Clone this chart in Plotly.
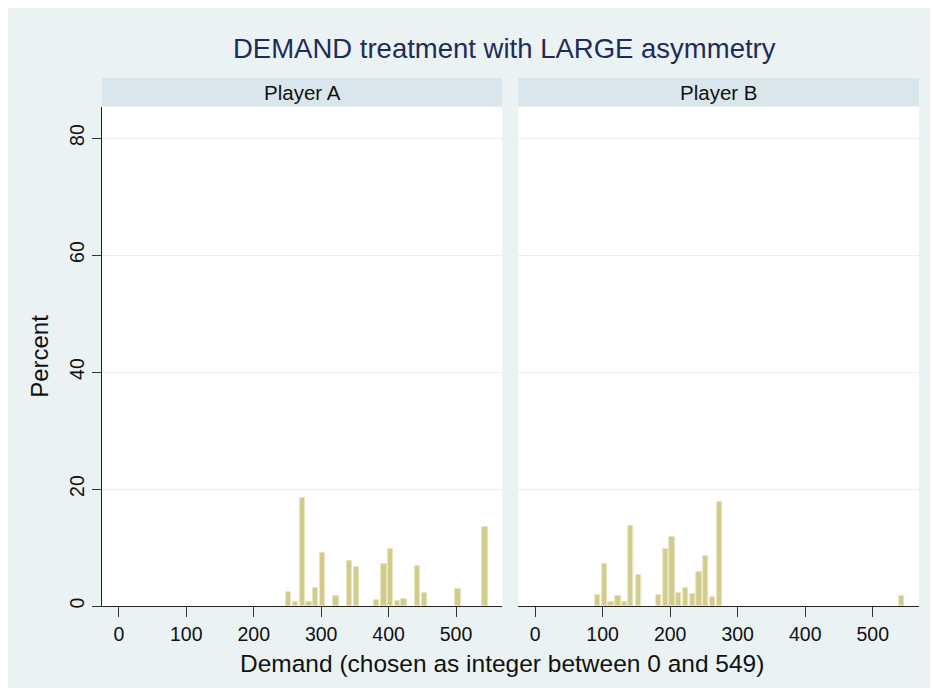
import plotly.graph_objects as go

# ---- data ----
player_a_demand = [252, 262, 272, 282, 292, 302, 322, 342, 352, 382, 393, 403, 413, 423, 443, 453, 503, 543]
player_a_percent = [2.36, 0.77, 18.5, 0.72, 3.05, 9.1, 1.74, 7.66, 6.7, 1.0, 7.1, 9.78, 0.89, 1.28, 6.87, 2.14, 2.87, 13.5]

player_b_demand = [93, 103, 113, 123, 133, 142, 153, 183, 193, 203, 213, 223, 233, 243, 253, 263, 273, 543]
player_b_percent = [1.8, 7.1, 0.77, 1.68, 0.77, 13.6, 5.33, 1.8, 9.83, 11.8, 2.3, 3.1, 1.97, 5.84, 8.58, 1.62, 17.86, 1.7]

x_ticks = [0, 100, 200, 300, 400, 500]
y_ticks = [0, 20, 40, 60, 80]

title_text = "DEMAND treatment with LARGE asymmetry"
panel_labels = ["Player A", "Player B"]
x_title = "Demand (chosen as integer between 0 and 549)"
y_title = "Percent"

# ---- style ----
FONT = "Liberation Sans, Arial, sans-serif"
BG = "#EAF2F3"
STRIP = "#D9E6EB"
BAR_FILL = "#D3CB8B"
BAR_EDGE = "#E9E4BE"
GRID = "#E8EFF1"
TITLE_COLOR = "#1E2D57"

OFF = 8  # page body margin
W, H = 938, 688
ML, MT = 101.6 - OFF, 99
MR = W - (919 - OFF)
MB = H - (605.7 - OFF)
PW = W - ML - MR
PH = H - MT - MB


def px_to_paper_x(px):
    return (px - OFF - ML) / PW


def px_to_paper_y(py):
    return (H - MB - (py - OFF)) / PH


fig = go.Figure()

fig.add_trace(go.Bar(x=player_a_demand, y=player_a_percent, width=8,
                     marker=dict(color=BAR_FILL, line=dict(color=BAR_EDGE, width=1)),
                     xaxis="x", yaxis="y", showlegend=False))
fig.add_trace(go.Bar(x=player_b_demand, y=player_b_percent, width=8,
                     marker=dict(color=BAR_FILL, line=dict(color=BAR_EDGE, width=1)),
                     xaxis="x2", yaxis="y2", showlegend=False))

xr = [-25, 568.5]
yr = [0, 85.3]
dom_a = [0, px_to_paper_x(502)]
dom_b = [px_to_paper_x(518), 1]

xcommon = dict(range=xr, tickvals=x_ticks, ticks="outside", ticklen=10, tickwidth=1.3,
               tickcolor="#333333", showline=True, linecolor="#222222", linewidth=1.3,
               showgrid=False, zeroline=False,
               tickfont=dict(family=FONT, size=19.5, color="#111111"))

fig.update_layout(
    width=W, height=H,
    margin=dict(l=ML, r=MR, t=MT, b=MB),
    paper_bgcolor=BG,
    plot_bgcolor="white",
    bargap=0,
    xaxis=dict(domain=dom_a, anchor="y", **xcommon),
    xaxis2=dict(domain=dom_b, anchor="y2", **xcommon),
    yaxis=dict(domain=[0, 1], anchor="x", range=yr, tickvals=y_ticks, ticks="outside",
               ticklen=9, tickwidth=1.3, tickcolor="#333333", showline=True,
               linecolor="#222222", linewidth=1.3, showgrid=True, gridcolor=GRID,
               gridwidth=1, zeroline=False, tickangle=-90,
               tickfont=dict(family=FONT, size=19.5, color="#111111"),
               title=dict(text=y_title, font=dict(family=FONT, size=24, color="#111111"),
                          standoff=10)),
    yaxis2=dict(domain=[0, 1], anchor="x2", range=yr, tickvals=y_ticks, showticklabels=False,
                ticks="", showline=False, showgrid=True, gridcolor=GRID, gridwidth=1,
                zeroline=False),
)

# strips
for dom, label in zip([dom_a, dom_b], panel_labels):
    fig.add_shape(type="rect", xref="paper", yref="paper",
                  x0=dom[0], x1=dom[1], y0=px_to_paper_y(106), y1=px_to_paper_y(78),
                  fillcolor=STRIP, line=dict(width=0), layer="below")
    fig.add_annotation(text=label, xref="paper", yref="paper",
                       x=(dom[0] + dom[1]) / 2, y=px_to_paper_y(93),
                       xanchor="center", yanchor="middle", showarrow=False,
                       font=dict(family=FONT, size=20.5, color="#111111"))

# title
fig.add_annotation(text=title_text, xref="paper", yref="paper",
                   x=px_to_paper_x(504), y=px_to_paper_y(49),
                   xanchor="center", yanchor="middle", showarrow=False,
                   font=dict(family=FONT, size=27.5, color=TITLE_COLOR))

# x-axis title
fig.add_annotation(text=x_title, xref="paper", yref="paper",
                   x=px_to_paper_x(502), y=px_to_paper_y(663),
                   xanchor="center", yanchor="middle", showarrow=False,
                   font=dict(family=FONT, size=24.5, color="#111111"))

fig.write_html("out.html")
